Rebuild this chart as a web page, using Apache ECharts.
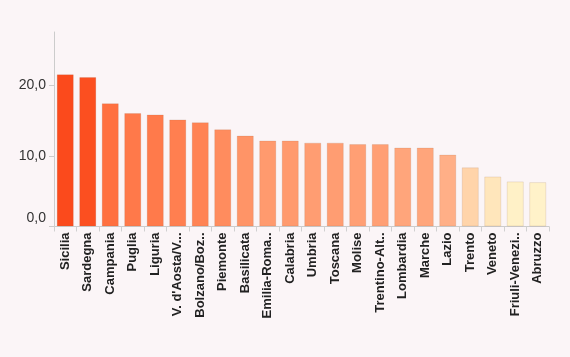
<!DOCTYPE html>
<html>
<head>
<meta charset="utf-8">
<script src="https://cdn.jsdelivr.net/npm/echarts@6/dist/echarts.min.js"></script>
<style>
html,body{margin:0;padding:0;background:#fbf5f7;}
#c{width:570px;height:357px;}
</style>
</head>
<body>
<div id="c"></div>
<script>
var categories = ["Sicilia","Sardegna","Campania","Puglia","Liguria","V. d'Aosta/V...","Bolzano/Boz..","Piemonte","Basilicata","Emilia-Roma..","Calabria","Umbria","Toscana","Molise","Trentino-Alt..","Lombardia","Marche","Lazio","Trento","Veneto","Friuli-Venezi..","Abruzzo"];
var values = [21.6,21.2,17.5,16.1,15.9,15.2,14.8,13.8,12.9,12.2,12.2,11.9,11.9,11.7,11.7,11.2,11.2,10.2,8.4,7.1,6.4,6.3];
var yTicks = [0,10,20];

var colorStops = [[6.3,[255,242,201]],[7.1,[255,230,187]],[8.4,[255,212,170]],[10.2,[255,175,135]],[12.2,[255,154,110]],[15.2,[255,127,80]],[17.5,[255,112,64]],[21.2,[252,79,32]],[21.6,[251,74,28]]];
function colorFor(v){
  if(v<=colorStops[0][0]) return 'rgb('+colorStops[0][1].join(',')+')';
  for(var i=1;i<colorStops.length;i++){
    if(v<=colorStops[i][0]){
      var a=colorStops[i-1],b=colorStops[i];
      var t=(v-a[0])/(b[0]-a[0]);
      var c=a[1].map(function(x,k){return Math.round(x+(b[1][k]-x)*t);});
      return 'rgb('+c.join(',')+')';
    }
  }
  return 'rgb('+colorStops[colorStops.length-1][1].join(',')+')';
}

var chart = echarts.init(document.getElementById('c'));
chart.setOption({
  backgroundColor:'#fbf5f7',
  animation:false,
  grid:{left:54,right:21,top:32,bottom:130.5,containLabel:false},
  xAxis:{
    type:'category',
    data:categories,
    axisLine:{lineStyle:{color:'#cccccc'}},
    axisTick:{show:true,length:5,lineStyle:{color:'#d0d0d0'}},
    axisLabel:{rotate:90,margin:6,interval:0,fontFamily:'Liberation Sans, Arial, sans-serif',fontSize:13,fontWeight:'bold',color:'#222222'}
  },
  yAxis:{
    type:'value',
    min:0,max:27.6,interval:10,
    splitLine:{show:false},
    axisLine:{show:true,lineStyle:{color:'#cccccc'}},
    axisTick:{show:true,length:5,lineStyle:{color:'#cccccc'}},
    axisLabel:{
      showMaxLabel:false,
      margin:8,
      fontFamily:'Liberation Sans, Arial, sans-serif',fontSize:14,color:'#333333',
      formatter:function(v){
        if(yTicks.indexOf(v)<0) return '';
        var s=v.toFixed(1).replace('.',',');
        return v===0 ? '{z|'+s+'}' : s;
      },
      rich:{z:{fontFamily:'Liberation Sans, Arial, sans-serif',fontSize:14,color:'#333333',padding:[0,0,16,0]}}
    }
  },
  series:[{
    type:'bar',
    data:values,
    barCategoryGap:'24%',
    itemStyle:{
      color:function(p){return colorFor(p.value);},
      borderColor:'rgba(150,100,70,0.15)',
      borderWidth:1
    }
  }]
});
</script>
</body>
</html>
